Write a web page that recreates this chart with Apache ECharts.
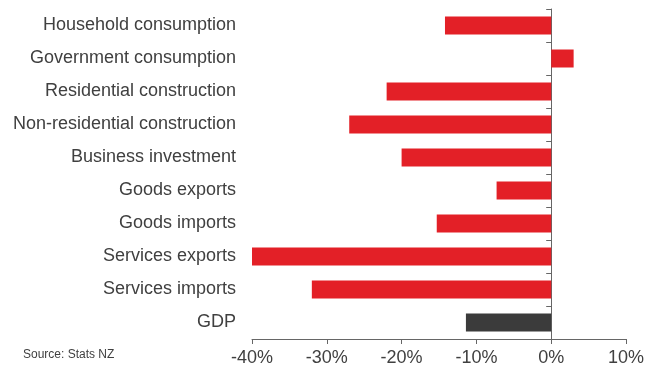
<!DOCTYPE html>
<html>
<head>
<meta charset="utf-8">
<script src="https://cdn.jsdelivr.net/npm/echarts@6/dist/echarts.min.js"></script>
<style>
  html, body { margin: 0; padding: 0; background: #fff; }
  #chart { width: 647px; height: 368px; }
</style>
</head>
<body>
<div id="chart"></div>
<script>
// categories, top to bottom
const categories = [
  'Household consumption',
  'Government consumption',
  'Residential construction',
  'Non-residential construction',
  'Business investment',
  'Goods exports',
  'Goods imports',
  'Services exports',
  'Services imports',
  'GDP'
];
// % change
const values = [-14.2, 3.0, -22.0, -27.0, -20.0, -7.3, -15.3, -40.0, -32.0, -11.4];
const xTicks = [-40, -30, -20, -10, 0, 10];

const red = '#e32027';
const dark = '#3b3b3b';
const textColor = '#404040';
const axisColor = '#666666';
const font = 'Liberation Sans, Arial, sans-serif';

const chart = echarts.init(document.getElementById('chart'), null, { renderer: 'canvas' });

const option = {
  animation: false,
  backgroundColor: '#ffffff',
  textStyle: { fontFamily: font },
  grid: { left: 252, right: 20, top: 9, bottom: 29, containLabel: false },
  graphic: [{
    type: 'text',
    left: 23,
    top: 349,
    style: { text: 'Source: Stats NZ', fill: textColor, font: '12px ' + font }
  }],
  xAxis: {
    type: 'value',
    min: xTicks[0],
    max: xTicks[xTicks.length - 1],
    interval: 10,
    splitLine: { show: false },
    axisLine: { show: true, lineStyle: { color: axisColor, width: 1 } },
    axisTick: { show: true, length: 5, lineStyle: { color: axisColor } },
    axisLabel: {
      color: textColor,
      fontSize: 18,
      fontFamily: font,
      margin: 10,
      formatter: '{value}%'
    }
  },
  yAxis: [
    {
      // labels at the left edge of the grid
      type: 'category',
      data: categories,
      inverse: true,
      position: 'left',
      axisLine: { show: false, onZero: false },
      axisTick: { show: false },
      axisLabel: { color: textColor, fontSize: 18, fontFamily: font, margin: 16, padding: [3, 0, 0, 0] }
    },
    {
      // the zero line with its ticks
      type: 'category',
      data: categories,
      inverse: true,
      position: 'left',
      axisLine: { show: true, onZero: true, lineStyle: { color: axisColor, width: 1 } },
      axisTick: { show: true, length: 5, lineStyle: { color: axisColor } },
      axisLabel: { show: false }
    }
  ],
  series: [{
    type: 'bar',
    yAxisIndex: 0,
    barWidth: 18,
    data: values.map((v, i) => ({
      value: v,
      itemStyle: { color: categories[i] === 'GDP' ? dark : red }
    }))
  }]
};

chart.setOption(option);
</script>
</body>
</html>
